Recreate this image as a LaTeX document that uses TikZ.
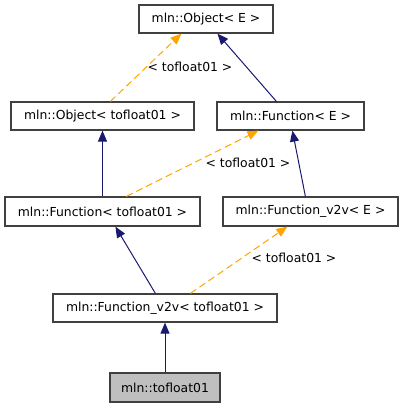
\documentclass[tikz,border=0pt]{standalone}
\usepackage{fontspec}
\setmainfont{DejaVu Sans}
\usetikzlibrary{arrows.meta}
\definecolor{navy}{HTML}{191970}
\definecolor{orng}{HTML}{FFA500}
\definecolor{boxline}{HTML}{404040}
\definecolor{boxgray}{HTML}{BFBFBF}
\tikzset{
  cls/.style={draw=boxline, line width=1.2bp, fill=white, inner sep=0pt, minimum height=28bp, font=\fontsize{12.4bp}{14bp}\selectfont},
  inh/.style={draw=navy, line width=1bp, -{Triangle[length=11bp,width=9bp]}},
  tmpl/.style={draw=orng, line width=1bp, dash pattern=on 7bp off 4bp, -{Triangle[length=11bp,width=9bp]}},
  lbl/.style={font=\fontsize{12.4bp}{14bp}\selectfont, inner sep=0pt}
}
\begin{document}
\begin{tikzpicture}[x=1bp,y=-1bp]
\useasboundingbox (0,0) rectangle (403,408);
\node[cls, minimum width=134bp] (oE) at (206,19) {mln::Object< E >};
\node[cls, minimum width=183bp] (oT) at (102.5,116) {mln::Object< tofloat01 >};
\node[cls, minimum width=147bp] (fE) at (290.5,116) {mln::Function< E >};
\node[cls, minimum width=195bp, minimum height=29bp] (fT) at (102.5,211.5) {mln::Function< tofloat01 >};
\node[cls, minimum width=175bp, minimum height=29bp] (vE) at (310.5,211.5) {mln::Function\_v2v< E >};
\node[cls, minimum width=224bp] (vT) at (165,308) {mln::Function\_v2v< tofloat01 >};
\node[cls, fill=boxgray, minimum width=110bp, minimum height=29bp] (t) at (165,387.5) {mln::tofloat01};

\draw[tmpl] ([xshift=100bp]oT.north west) -- ([xshift=43bp]oE.south west);
\draw[inh] ([xshift=60bp]fE.north west) -- ([xshift=79bp]oE.south west);
\draw[inh] (fT.north) -- (oT.south);
\draw[tmpl] ([xshift=122bp]fT.north west) -- ([xshift=42bp]fE.south west);
\draw[inh] ([xshift=83bp]vE.north west) -- ([xshift=76bp]fE.south west);
\draw[inh] ([xshift=103bp]vT.north west) -- ([xshift=111bp]fT.south west);
\draw[tmpl] ([xshift=138bp]vT.north west) -- ([xshift=65bp]vE.south west);
\draw[inh] (t.north) -- (vT.south);

\node[lbl] (l1) at (190,67) {< tofloat01 >};
\node[lbl] (l2) at (248,163) {< tofloat01 >};
\node[lbl] (l3) at (294,258) {< tofloat01 >};
\end{tikzpicture}
\end{document}
